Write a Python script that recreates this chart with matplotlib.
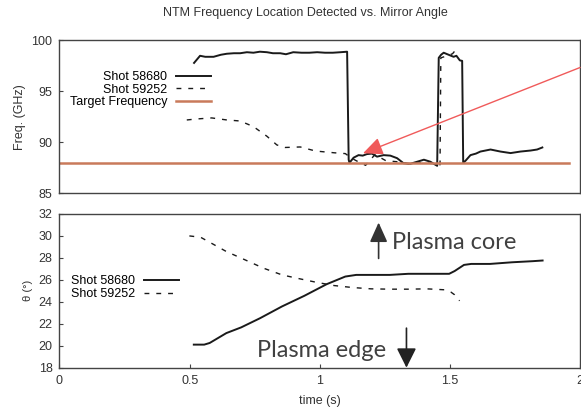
import numpy as np
import matplotlib
matplotlib.use("Agg")
import matplotlib.pyplot as plt

plt.rcParams['font.family'] = ['Liberation Sans', 'DejaVu Sans']
plt.rcParams['font.size'] = 9

# --- top panel: detected NTM frequency (GHz) ---
t_f58680 = [0.517, 0.54, 0.56, 0.592, 0.62, 0.643, 0.67, 0.694, 0.72, 0.745, 0.77, 0.797,
            0.82, 0.848, 0.87, 0.898, 0.93, 0.96, 0.99, 1.02, 1.05, 1.08, 1.105,
            1.111, 1.114, 1.13, 1.149, 1.165, 1.181, 1.2, 1.22, 1.245, 1.271, 1.297,
            1.322, 1.348, 1.374, 1.4, 1.425, 1.451, 1.457, 1.466, 1.476, 1.495, 1.514,
            1.525, 1.538, 1.547, 1.551, 1.56, 1.579, 1.6, 1.617, 1.656, 1.694, 1.733,
            1.771, 1.81, 1.835, 1.855]
f58680 = [97.8, 98.5, 98.4, 98.4, 98.6, 98.7, 98.75, 98.75, 98.85, 98.8, 98.9, 98.85,
          98.75, 98.75, 98.65, 98.85, 98.8, 98.8, 98.85, 98.8, 98.8, 98.85, 98.9,
          88.3, 88.0, 88.5, 88.75, 88.7, 88.85, 88.9, 88.6, 88.75, 88.7, 88.45,
          87.95, 87.9, 88.1, 88.3, 88.1, 87.7, 98.3, 98.6, 98.8, 98.6, 98.4,
          98.5, 98.05, 98.0, 88.0, 88.2, 88.75, 88.9, 89.1, 89.3, 89.1, 88.95,
          89.1, 89.2, 89.3, 89.5]

t_f59252 = [0.489, 0.528, 0.585, 0.643, 0.694, 0.745, 0.797, 0.835, 0.867, 0.925, 0.984,
            1.055, 1.098, 1.119, 1.14, 1.176, 1.212, 1.254, 1.297, 1.34, 1.397, 1.44,
            1.462, 1.465, 1.49, 1.51, 1.528]
f59252 = [92.2, 92.3, 92.4, 92.2, 92.1, 91.55, 90.6, 89.75, 89.5, 89.55, 89.15,
          88.98, 88.9, 88.5, 88.2, 87.75, 88.8, 88.2, 88.1, 87.9, 88.0, 87.9,
          87.8, 98.3, 98.5, 98.7, 99.25]

t_target = [0.0, 1.957]
f_target = [88.0, 88.0]

# --- bottom panel: mirror angle theta (deg) ---
t_a58680 = [0.516, 0.556, 0.577, 0.641, 0.698, 0.77, 0.855, 0.941, 1.026, 1.098, 1.14,
            1.197, 1.269, 1.34, 1.411, 1.497, 1.518, 1.554, 1.582, 1.654, 1.739, 1.818, 1.856]
a58680 = [20.1, 20.1, 20.25, 21.15, 21.67, 22.5, 23.58, 24.55, 25.6, 26.3, 26.45,
          26.45, 26.45, 26.55, 26.55, 26.55, 26.8, 27.36, 27.45, 27.45, 27.6, 27.7, 27.76]

t_a59252 = [0.499, 0.542, 0.584, 0.641, 0.713, 0.784, 0.855, 0.912, 0.984, 1.055, 1.126,
            1.197, 1.269, 1.34, 1.411, 1.483, 1.504, 1.518, 1.537]
a59252 = [30.0, 29.88, 29.33, 28.58, 27.82, 27.06, 26.45, 26.15, 25.79, 25.48, 25.3,
          25.18, 25.15, 25.15, 25.18, 25.09, 24.88, 24.64, 24.09]

DASH = (0, (3.5, 5))
SPINE = '#444444'
TXT = '#333333'


def style_axes(ax):
	for s in ax.spines.values():
		s.set_color(SPINE)
		s.set_linewidth(1.0)
	ax.tick_params(direction='in', length=3, width=0.8, colors=SPINE,
	               labelcolor=TXT, labelsize=9, pad=5, right=False, top=False)


fig = plt.figure(figsize=(5.81, 4.07), dpi=100)
ax1 = fig.add_axes([0.1024, 0.525, 0.896, 0.3755])
ax2 = fig.add_axes([0.1024, 0.0966, 0.896, 0.3777])

# top panel
ax1.plot(t_f58680, f58680, color='#1a1a1a', lw=1.4, label='Shot 58680')
ax1.plot(t_f59252, f59252, color='#1a1a1a', lw=1.0, linestyle=DASH, label='Shot 59252')
ax1.plot(t_target, f_target, color='#c97a5b', lw=1.8, label='Target Frequency')
ax1.set_xlim(0, 2)
ax1.set_ylim(85, 100)
ax1.set_yticks([85, 90, 95, 100])
ax1.set_xticks([])
ax1.set_ylabel('Freq. (GHz)', color=TXT, fontsize=9, labelpad=4)
style_axes(ax1)
ax1.legend(loc='upper left', bbox_to_anchor=(0.02, 0.80), frameon=False,
           markerfirst=False, fontsize=9, handlelength=2.8, handletextpad=0.7,
           labelspacing=0.05, borderpad=0, borderaxespad=0)
ax1.annotate('', xy=(1.166, 88.93), xytext=(2.0, 97.35), annotation_clip=False,
             arrowprops=dict(arrowstyle='-|>,head_length=1.0,head_width=0.45',
                             mutation_scale=12, color='#f05a5a', lw=1.0,
                             shrinkA=0, shrinkB=0))

# bottom panel
ax2.plot(t_a58680, a58680, color='#1a1a1a', lw=1.4, label='Shot 58680')
ax2.plot(t_a59252, a59252, color='#1a1a1a', lw=1.0, linestyle=DASH, label='Shot 59252')
ax2.set_xlim(0, 2)
ax2.set_ylim(18, 32)
ax2.set_yticks(np.arange(18, 33, 2))
ax2.set_xticks([0, 0.5, 1, 1.5, 2])
ax2.set_xticklabels(['0', '0.5', '1', '1.5', '2'])
ax2.set_xlabel('time (s)', color=TXT, fontsize=9, labelpad=6)
ax2.set_ylabel('θ (°)', color=TXT, fontsize=8, labelpad=4)
style_axes(ax2)
ax2.legend(loc='upper left', bbox_to_anchor=(0.0215, 0.60), frameon=False,
           markerfirst=False, fontsize=9, handlelength=2.8, handletextpad=0.7,
           labelspacing=0.05, borderpad=0, borderaxespad=0)

# plasma core / edge annotations
ax2.annotate('', xy=(1.226, 31.22), xytext=(1.226, 27.95),
             arrowprops=dict(arrowstyle='-|>,head_length=1.0,head_width=0.45',
                             mutation_scale=12, color='#333333', lw=1.2,
                             shrinkA=0, shrinkB=0))
ax2.text(1.278, 28.85, 'Plasma core', fontfamily='Lato', fontsize=17,
         color='#404040', ha='left', va='baseline')
ax2.annotate('', xy=(1.333, 18.0), xytext=(1.333, 21.6), annotation_clip=False,
             arrowprops=dict(arrowstyle='-|>,head_length=1.0,head_width=0.5',
                             mutation_scale=12, color='#222222', lw=1.2,
                             shrinkA=0, shrinkB=0))
ax2.text(0.758, 18.95, 'Plasma edge', fontfamily='Lato', fontsize=17,
         color='#404040', ha='left', va='baseline')

fig.text(0.525, 1 - 13 / 407, 'NTM Frequency Location Detected vs. Mirror Angle',
         ha='center', va='center', fontsize=9, color=TXT)

fig.savefig('out.png', dpi=100)
